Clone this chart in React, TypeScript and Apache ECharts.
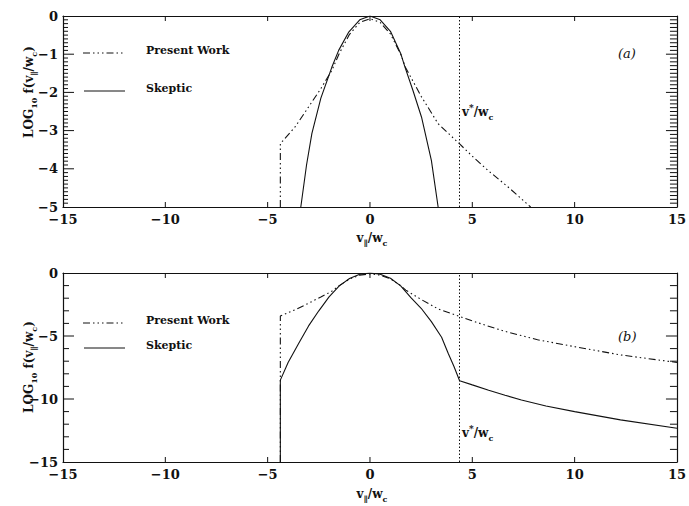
import React, { useEffect, useRef } from "react";
import * as echarts from "echarts";

// ---- data ----
const xRange = [-15, 15];
const yRangeA = [-5, 0];
const yRangeB = [-15, 0];
const vStar = 4.38;

const xTickValues = [-15, -10, -5, 0, 5, 10, 15];
const yTickValuesA = [-5, -4, -3, -2, -1, 0];
const yTickValuesB = [-15, -10, -5, 0];
const minorStepA = 0.1;
const minorStepB = 1;

const skepticA: number[][] = [
  [-3.38, -5.0], [-3.1, -3.9], [-2.84, -3.08], [-2.4, -2.15], [-1.87, -1.35],
  [-1.53, -0.9], [-1.05, -0.43], [-0.5, -0.1], [0, 0], [0.5, -0.1], [1.0, -0.4],
  [1.5, -0.98], [1.71, -1.34], [2.1, -1.95], [2.52, -2.65], [3.0, -3.78], [3.33, -5.0],
];

const presentA: number[][] = [
  [-4.38, -5.0], [-4.38, -3.34], [-3.64, -2.89], [-3.0, -2.38], [-2.4, -1.9],
  [-1.87, -1.43], [-1.5, -0.98], [-1.0, -0.48], [-0.5, -0.17], [0, -0.07],
  [0.5, -0.17], [1.0, -0.47], [1.5, -1.0], [1.75, -1.36], [2.5, -2.1],
  [3.33, -2.82], [4.38, -3.35], [5.0, -3.67], [5.76, -4.04], [6.8, -4.5], [7.85, -5.0],
];

const skepticB: number[][] = [
  [-4.38, -15], [-4.38, -8.5], [-4.0, -7.1], [-3.48, -5.58], [-3.0, -4.2],
  [-2.5, -3.0], [-2.0, -1.9], [-1.5, -1.02], [-1.0, -0.44], [-0.5, -0.1],
  [0, 0], [0.5, -0.1], [1.0, -0.42], [1.5, -1.02], [2.0, -1.95], [2.5, -2.8],
  [3.0, -3.86], [3.5, -5.1], [3.82, -6.37], [4.1, -7.4], [4.38, -8.55],
  [5.0, -8.88], [5.8, -9.3], [6.6, -9.7], [7.4, -10.08], [8.6, -10.55],
  [10.0, -11.0], [12.24, -11.66], [15, -12.32],
];

const presentB: number[][] = [
  [-4.38, -15], [-4.38, -3.41], [-3.64, -2.9], [-3.0, -2.4], [-2.4, -1.9],
  [-1.87, -1.45], [-1.5, -1.0], [-1.0, -0.48], [-0.5, -0.17], [0, -0.07],
  [0.5, -0.17], [1.0, -0.47], [1.5, -1.0], [1.75, -1.36], [2.5, -2.1],
  [3.33, -2.85], [4.38, -3.45], [5.5, -4.07], [6.57, -4.62], [8.19, -5.3],
  [9.98, -5.84], [12.24, -6.5], [15, -7.1],
];

const legendNames = ["Present Work", "Skeptic"];
const panelTags = ["(a)", "(b)"];

// ---- styles ----
const FONT = "DejaVu Serif";
const INK = "#111";
const dashPW = [7, 3, 1.5, 3, 1.5, 3, 1.5, 3];

const fmt = (v: number) => (v < 0 ? "\u2212" + -v : String(v));

const richBase = {
  a: { fontFamily: FONT, fontWeight: "bold", fontSize: 12, lineHeight: 18, verticalAlign: "middle", fill: INK },
  s: { fontFamily: FONT, fontWeight: "bold", fontSize: 8, lineHeight: 8, verticalAlign: "bottom", fill: INK },
  p: { fontFamily: FONT, fontWeight: "bold", fontSize: 9, lineHeight: 9, verticalAlign: "top", fill: INK },
};

function xAxisPair(gridIndex: number) {
  const common = {
    gridIndex,
    type: "value",
    min: xRange[0],
    max: xRange[1],
    interval: 5,
    splitLine: { show: false },
    axisLine: { show: true, onZero: false, lineStyle: { color: INK, width: 1.2 } },
    axisTick: { show: false },
  };
  return [
    {
      ...common,
      position: "bottom",
      axisLabel: { show: true, margin: 6, formatter: fmt, fontFamily: FONT, fontWeight: "bold", fontSize: 13, color: INK },
    },
    { ...common, position: "top", axisLabel: { show: false } },
  ];
}

function yAxisPair(gridIndex: number, range: number[], interval: number) {
  const common = {
    gridIndex,
    type: "value",
    min: range[0],
    max: range[1],
    interval,
    splitLine: { show: false },
    axisLine: { show: true, onZero: false, lineStyle: { color: INK, width: 1.2 } },
    axisTick: { show: false },
  };
  return [
    {
      ...common,
      position: "left",
      axisLabel: { show: true, margin: 5, formatter: fmt, fontFamily: FONT, fontWeight: "bold", fontSize: 13, color: INK },
    },
    { ...common, position: "right", axisLabel: { show: false } },
  ];
}

// tick marks: [value, length, side]  side 0=left,1=right,2=bottom,3=top
function buildTicks(yMajor: number[], yRange: number[], minorStep: number, minorLeft: number, minorRight: number) {
  const out: number[][] = [];
  const isMajor = (v: number) => yMajor.some((m) => Math.abs(m - v) < 1e-6);
  const n = Math.round((yRange[1] - yRange[0]) / minorStep);
  for (let i = 1; i < n; i++) {
    const v = yRange[0] + i * minorStep;
    if (isMajor(v)) {
      out.push([v, 11, 0], [v, 11, 1]);
    } else {
      out.push([v, minorLeft, 0], [v, minorRight, 1]);
    }
  }
  xTickValues.forEach((v) => {
    if (v > xRange[0] && v < xRange[1]) out.push([v, 5, 2], [v, 5, 3]);
  });
  return out;
}

function tickSeries(xi: number, yi: number, yRange: number[], data: number[][]) {
  return {
    type: "custom",
    xAxisIndex: xi,
    yAxisIndex: yi,
    silent: true,
    clip: false,
    z: 4,
    data,
    renderItem: (_params: any, api: any) => {
      const v = api.value(0);
      const len = api.value(1);
      const side = api.value(2);
      let p: number[];
      let q: number[];
      if (side === 0) {
        p = api.coord([xRange[0], v]);
        q = [p[0] + len, p[1]];
      } else if (side === 1) {
        p = api.coord([xRange[1], v]);
        q = [p[0] - len, p[1]];
      } else if (side === 2) {
        p = api.coord([v, yRange[0]]);
        q = [p[0], p[1] - len];
      } else {
        p = api.coord([v, yRange[1]]);
        q = [p[0], p[1] + len];
      }
      return {
        type: "line",
        shape: { x1: p[0], y1: p[1], x2: q[0], y2: q[1] },
        style: { stroke: INK, lineWidth: 1 },
      };
    },
  };
}

function lineSeries(name: string, data: number[][], xi: number, yi: number, dash: boolean, withMark: boolean) {
  const s: any = {
    name,
    type: "line",
    xAxisIndex: xi,
    yAxisIndex: yi,
    data,
    showSymbol: false,
    symbol: "none",
    smooth: false,
    lineStyle: { color: INK, width: 1.1, type: dash ? dashPW : "solid" },
    z: 3,
  };
  if (withMark) {
    s.markLine = {
      silent: true,
      symbol: ["none", "none"],
      label: { show: false },
      lineStyle: { color: INK, width: 1, type: [1.5, 2] },
      data: [{ xAxis: vStar }],
    };
  }
  return s;
}

function legendGraphics(yPW: number, ySk: number) {
  return [
    { type: "line", shape: { x1: 83, y1: yPW, x2: 123, y2: yPW }, style: { stroke: INK, lineWidth: 1, lineDash: dashPW } },
    { type: "line", shape: { x1: 84, y1: ySk, x2: 125, y2: ySk }, style: { stroke: INK, lineWidth: 1 } },
    { type: "text", x: 146, y: yPW - 3, style: { text: legendNames[0], font: `bold 11px "${FONT}"`, fill: INK, verticalAlign: "middle" } },
    { type: "text", x: 146, y: ySk - 3, style: { text: legendNames[1], font: `bold 11px "${FONT}"`, fill: INK, verticalAlign: "middle" } },
  ];
}

function yTitle(cy: number) {
  return {
    type: "text",
    x: 29,
    y: cy,
    rotation: Math.PI / 2,
    style: {
      text: "{a|LOG}{s|10}{a| f(v}{s|\u2225}{a|/w}{s|c}{a|)}",
      rich: richBase,
      align: "center",
      verticalAlign: "middle",
    },
  };
}

function xTitle(cy: number) {
  return {
    type: "text",
    x: 372,
    y: cy,
    style: {
      text: "{a|v}{s|\u2225}{a|/w}{s|c}",
      rich: richBase,
      align: "center",
      verticalAlign: "middle",
    },
  };
}

function vStarLabel(cy: number) {
  return {
    type: "text",
    x: 462,
    y: cy,
    style: {
      text: "{a|v}{p|*}{a|/w}{s|c}",
      rich: richBase,
      align: "left",
      verticalAlign: "middle",
    },
  };
}

function tag(text: string, cy: number) {
  return {
    type: "text",
    x: 618,
    y: cy,
    style: { text, font: `italic 13px "${FONT}"`, fill: INK, verticalAlign: "middle" },
  };
}

export default function App() {
  const ref = useRef<HTMLDivElement>(null);
  useEffect(() => {
    if (!ref.current) return;
    const chart = echarts.init(ref.current, null, { renderer: "svg" });
    const [xa0, xa1] = xAxisPair(0);
    const [xb0, xb1] = xAxisPair(1);
    const [ya0, ya1] = yAxisPair(0, yRangeA, 1);
    const [yb0, yb1] = yAxisPair(1, yRangeB, 5);
    chart.setOption({
      animation: false,
      backgroundColor: "#fff",
      grid: [
        { left: 63, top: 16, width: 617, height: 191, show: false },
        { left: 63, top: 273, width: 617, height: 189, show: false },
      ],
      xAxis: [xa0, xa1, xb0, xb1],
      yAxis: [ya0, ya1, yb0, yb1],
      series: [
        lineSeries(legendNames[0], presentA, 0, 0, true, true),
        lineSeries(legendNames[1], skepticA, 0, 0, false, false),
        lineSeries(legendNames[0], presentB, 2, 2, true, true),
        lineSeries(legendNames[1], skepticB, 2, 2, false, false),
        tickSeries(0, 0, yRangeA, buildTicks(yTickValuesA, yRangeA, minorStepA, 5, 7)),
        tickSeries(2, 2, yRangeB, buildTicks(yTickValuesB, yRangeB, minorStepB, 6, 7)),
      ],
      graphic: [
        ...legendGraphics(53, 91),
        ...legendGraphics(323, 348),
        yTitle(92),
        yTitle(367),
        xTitle(238),
        xTitle(494),
        vStarLabel(112),
        vStarLabel(433),
        tag(panelTags[0], 53),
        tag(panelTags[1], 336),
      ],
    });
    return () => chart.dispose();
  }, []);
  return (
    <div
      ref={ref}
      style={{ position: "fixed", left: 0, top: 0, width: 689, height: 506, background: "#fff" }}
    />
  );
}
